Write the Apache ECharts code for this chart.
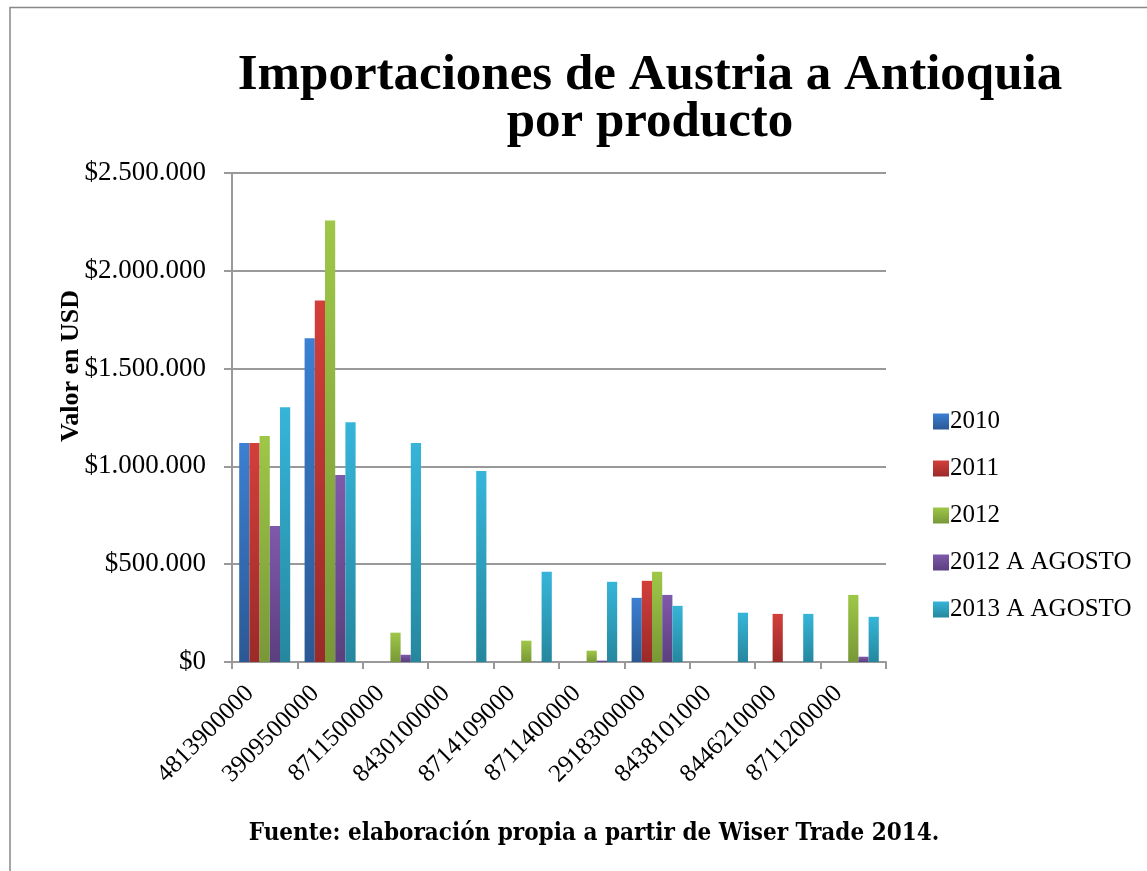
<!DOCTYPE html>
<html>
  <head>
    <meta charset="UTF-8">
    <title>Importaciones de Austria a Antioquia</title>
    <script src="https://cdn.jsdelivr.net/npm/echarts@6/dist/echarts.min.js"></script>
    <style>
      html, body { margin: 0; padding: 0; background: #fff; }
    </style>
  </head>
  <body>
    <div id="box" style="width:1147px;height:871px"></div>
    <script>
        // productos (partidas arancelarias)
        var productos = ['4813900000', '3909500000', '8711500000', '8430100000', '8714109000',
                         '8711400000', '2918300000', '8438101000', '8446210000', '8711200000'];
        var anios = ['2010', '2011', '2012', '2012 A AGOSTO', '2013 A AGOSTO'];

        // valores en USD
        var v2010   = [1119000, 1655000, 0, 0, 0, 0, 328000, 0, 0, 0];
        var v2011   = [1119000, 1848000, 0, 0, 0, 0, 415000, 0, 246000, 0];
        var v2012   = [1155000, 2257000, 150000, 0, 109000, 58000, 461000, 0, 0, 343000];
        var v2012ag = [695000, 956000, 37000, 0, 0, 7000, 343000, 0, 0, 27000];
        var v2013ag = [1302000, 1226000, 1119000, 976000, 461000, 410000, 287000, 252000, 246000, 231000];

        var yTicks = [0, 500000, 1000000, 1500000, 2000000, 2500000];

        var colores = [
            ['#3b80d2', '#2b5894'],
            ['#d33f3b', '#9a2a28'],
            ['#9ec748', '#789836'],
            ['#7f59ab', '#5b3f7e'],
            ['#36b5d9', '#25879e']
        ];
        var valores = [v2010, v2011, v2012, v2012ag, v2013ag];

        var serif = '"Liberation Serif", "DejaVu Serif", serif';
        var condensada = '"DejaVu Serif Condensed", "Liberation Serif", serif';

        function dinero(v) {
            return '$' + String(v).replace(/\B(?=(\d{3})+(?!\d))/g, '.');
        }

        var myChart = echarts.init(document.getElementById('box'));
        myChart.setOption({
            animation: false,
            title: {
                text: 'Importaciones de Austria a Antioquia\npor producto',
                left: 645,
                textAlign: 'center',
                top: 47,
                textStyle: {fontFamily: serif, fontWeight: 'bold', fontSize: 51, lineHeight: 47, color: '#000'}
            },
            graphic: [{
                type: 'polyline',
                shape: {points: [[10, 900], [10, 7.5], [1200, 7.5]]},
                style: {stroke: '#888', lineWidth: 1.5, fill: null}
            }, {
                type: 'text',
                x: 71,
                y: 366,
                rotation: Math.PI / 2,
                style: {
                    text: 'Valor en USD',
                    font: 'bold 26px ' + serif,
                    fill: '#000',
                    align: 'center',
                    verticalAlign: 'middle'
                }
            }, {
                type: 'text',
                x: 594,
                y: 834,
                style: {
                    text: 'Fuente: elaboración propia a partir de Wiser Trade 2014.',
                    font: 'bold 24px ' + condensada,
                    fill: '#000',
                    align: 'center',
                    verticalAlign: 'middle'
                }
            }],
            legend: {
                orient: 'vertical',
                left: 928,
                top: 404,
                itemWidth: 16,
                itemHeight: 16,
                itemGap: 22,
                icon: 'rect',
                textStyle: {fontFamily: serif, fontSize: 25, lineHeight: 25, color: '#000', padding: [0, 0, 0, -4]},
                data: anios
            },
            grid: {left: 232, right: 261, top: 173, bottom: 209},
            xAxis: {
                type: 'category',
                data: productos,
                axisLine: {lineStyle: {color: '#999', width: 2}},
                axisTick: {show: true, length: 7, lineStyle: {color: '#999', width: 2}},
                axisLabel: {
                    rotate: 45, fontFamily: serif, fontSize: 25, color: '#000',
                    margin: 13, padding: [0, 21, 0, 0], interval: 0
                }
            },
            yAxis: {
                type: 'value',
                min: 0,
                max: 2500000,
                interval: 500000,
                axisLine: {show: true, lineStyle: {color: '#999', width: 2}},
                axisTick: {show: true, length: 8, lineStyle: {color: '#999', width: 2}},
                splitLine: {lineStyle: {color: '#999', width: 2}},
                axisLabel: {
                    fontFamily: serif, fontSize: 27, color: '#000', margin: 26,
                    formatter: function (v) { return yTicks.indexOf(v) >= 0 ? dinero(v) : ''; }
                }
            },
            series: anios.map(function (a, i) {
                return {
                    name: a,
                    type: 'bar',
                    data: valores[i],
                    barGap: '0%',
                    barCategoryGap: '22%',
                    itemStyle: {
                        color: new echarts.graphic.LinearGradient(0, 0, 0, 1, [
                            {offset: 0, color: colores[i][0]},
                            {offset: 1, color: colores[i][1]}
                        ])
                    }
                };
            })
        });
    </script>
  </body>
</html>
